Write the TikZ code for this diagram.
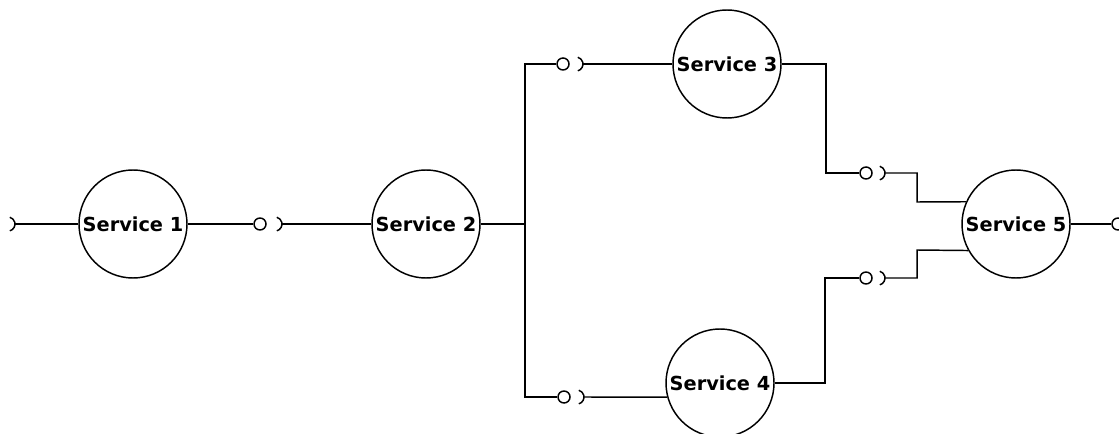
\documentclass[tikz,border=0pt]{standalone}
\usepackage{fontspec}
\setmainfont{DejaVu Sans}
\usetikzlibrary{calc}

\begin{document}
\begin{tikzpicture}[x=0.75pt, y=0.75pt, line width=1.1pt,
  service/.style={circle, draw, inner sep=0pt, minimum size=81pt, font=\fontsize{14.5}{17}\selectfont\bfseries},
  ball/.style={circle, draw, inner sep=0pt, minimum size=9pt}]
\useasboundingbox (0,0) rectangle (1119,-434);

\node [service] (s1) at (133,-224) {Service 1};
\node [service] (s2) at (426,-224) {Service 2};
\node [service] (s3) at (727,-64) {Service 3};
\node [service] (s4) at (720,-383) {Service 4};
\node [service] (s5) at (1016,-224) {Service 5};

% provided interfaces
\node [ball] (b1) at (260,-224) {};
\node [ball] (b2) at (563,-64) {};
\node [ball] (b3) at (564,-397) {};
\node [ball] (b4) at (866,-173) {};
\node [ball] (b5) at (866,-278) {};
\node [ball] (b6) at (1118,-224) {};

% required interfaces
\coordinate (r0) at (15,-224);
\coordinate (r1) at (282,-224);
\coordinate (r2) at (583,-64);
\coordinate (r3) at (584,-397);
\coordinate (r4) at (885,-173);
\coordinate (r5) at (885,-278);
\foreach \r in {r0,r1,r2,r3,r4,r5}
  \draw ([shift={(-3.9pt,-5.1pt)}]\r) arc[start angle=-75, end angle=75, radius=5.25pt];

\coordinate (fork) at (525,-224);
\coordinate (up) at (826,-173);
\coordinate (down) at (825,-278);
\coordinate (join1) at (917,-202);
\coordinate (join2) at (917,-250);

\draw (r0) -- (s1);
\draw (s1) -- (b1);
\draw (r1) -- (s2);
\draw (s2.east) -- (fork);
\draw (fork) |- (b2);
\draw (fork) |- (b3);
\draw (r2) -- (s3);
\draw (r3) -- (s4.195);
\draw (s3.east) -| (up) -- (b4);
\draw (s4.east) -| (down) -- (b5);
\draw (r4) -| (join1) -- (s5.156);
\draw (r5) -| (join2) -- (s5.209);
\draw (s5) -- (b6);
\end{tikzpicture}
\end{document}
